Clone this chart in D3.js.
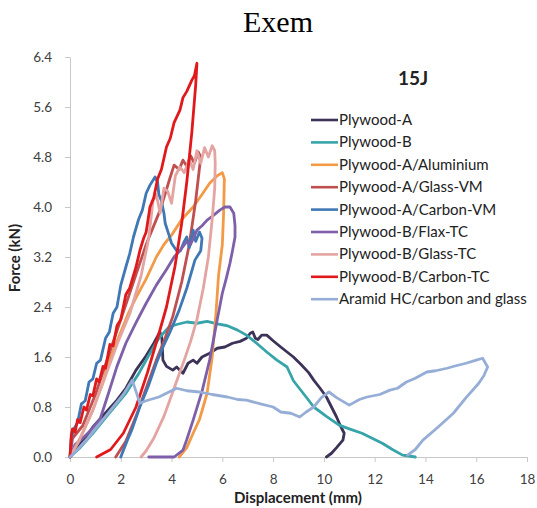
<!DOCTYPE html>
<html>
<head>
<meta charset="utf-8">
<script src="https://cdn.jsdelivr.net/npm/d3@7"></script>
<style>
  body { margin: 0; background: #fff; }
  svg { display: block; }
  .axis text { font-family: Lato, sans-serif; font-size: 13.5px; fill: #404040; }
  .axis path, .axis line { stroke: #c8c8c8; }
</style>
</head>
<body>
<script>
// tick values
var xTicks = [0, 2, 4, 6, 8, 10, 12, 14, 16, 18];
var yTicks = [0, 0.8, 1.6, 2.4, 3.2, 4.0, 4.8, 5.6, 6.4];

// series names + colours (legend order)
var names = ["Plywood-A", "Plywood-B", "Plywood-A/Aluminium", "Plywood-A/Glass-VM",
  "Plywood-A/Carbon-VM", "Plywood-B/Flax-TC", "Plywood-B/Glass-TC", "Plywood-B/Carbon-TC",
  "Aramid HC/carbon and glass"];
var colours = ["#3d3358", "#37a4aa", "#f29a46", "#bf4f50", "#3f78b4", "#7e5fa9", "#e3a4a2", "#e0191c", "#96aed6"];

// [displacement mm, force kN]
var plywoodA = [[0,0],[0.3,0.15],[0.6,0.3],[0.9,0.48],[1.3,0.66],[1.85,0.91],[2.2,1.1],[2.6,1.39],[3.0,1.62],
  [3.3,1.82],[3.54,2.0],[3.62,1.9],[3.66,1.55],[3.8,1.45],[4.05,1.39],[4.2,1.44],[4.45,1.34],[4.65,1.5],
  [4.85,1.55],[5.0,1.5],[5.2,1.6],[5.5,1.66],[5.8,1.74],[6.1,1.76],[6.4,1.82],[6.7,1.85],[6.95,1.9],
  [7.1,1.98],[7.2,2.0],[7.3,1.9],[7.4,1.88],[7.55,1.95],[7.75,1.95],[8.0,1.86],[8.3,1.76],[8.55,1.68],
  [8.8,1.6],[9.1,1.48],[9.4,1.35],[9.6,1.23],[9.85,1.1],[10.1,0.96],[10.3,0.8],[10.5,0.64],[10.65,0.5],
  [10.8,0.38],[10.75,0.27],[10.5,0.15],[10.3,0.06],[10.1,0]];

var plywoodB = [[0,0],[0.4,0.15],[0.9,0.38],[1.5,0.68],[2.2,1.02],[2.7,1.33],[3.15,1.66],[3.5,1.9],[3.9,2.08],
  [4.2,2.12],[4.6,2.16],[5.0,2.14],[5.4,2.17],[5.8,2.13],[6.2,2.1],[6.6,2.03],[6.95,1.95],[7.35,1.82],
  [7.75,1.68],[8.15,1.55],[8.55,1.44],[8.8,1.22],[9.3,0.96],[9.6,0.8],[10.1,0.65],[10.6,0.51],[11.0,0.45],
  [11.5,0.38],[11.9,0.3],[12.3,0.22],[12.7,0.12],[13.1,0.03],[13.3,0.02],[13.6,0]];

var aluminium = [[0,0],[0.4,0.3],[0.9,0.75],[1.3,1.2],[1.6,1.6],[2.0,2.0],[2.3,2.3],[2.6,2.55],[3.0,2.85],
  [3.4,3.2],[3.7,3.4],[4.0,3.55],[4.4,3.8],[4.85,4.0],[5.2,4.2],[5.5,4.38],[5.8,4.5],[6.0,4.55],[6.08,4.45],
  [6.05,3.9],[6.0,3.4],[5.85,2.9],[5.75,2.3],[5.6,1.6],[5.4,1.02],[5.1,0.6],[4.85,0.38],[4.6,0.15],[4.3,0]];

var glassVM = [[0,0],[0.1,0.3],[0.5,0.5],[1.0,1.0],[1.5,1.6],[2.0,2.2],[2.5,2.8],[3.0,3.4],[3.55,3.95],
  [3.95,4.48],[4.1,4.67],[4.3,4.6],[4.45,4.75],[4.6,4.65],[4.75,4.82],[4.9,4.7],[5.05,4.88],[5.15,4.8],
  [4.95,4.1],[4.7,3.4],[4.4,2.8],[4.05,2.25],[3.7,1.85],[3.4,1.55],[3.0,1.1],[2.6,0.65],[2.2,0.25],[1.8,0]];

var carbonVM = [[0,0],[0.05,0.3],[0.15,0.45],[0.3,0.55],[0.45,0.85],[0.6,0.9],[0.75,1.2],[0.9,1.25],
  [1.05,1.5],[1.2,1.55],[1.4,1.9],[1.55,2.0],[1.7,2.3],[1.85,2.4],[2.0,2.75],[2.2,3.04],[2.35,3.25],
  [2.5,3.52],[2.7,3.8],[2.85,3.95],[3.0,4.22],[3.15,4.35],[3.35,4.48],[3.45,4.4],[3.5,4.2],[3.6,4.1],
  [3.7,3.9],[3.75,3.74],[3.9,3.55],[4.0,3.42],[4.2,3.3],[4.35,3.3],[4.5,3.45],[4.6,3.52],[4.7,3.35],
  [4.85,3.63],[4.95,3.45],[5.1,3.6],[5.2,3.5],[5.15,3.3],[4.92,3.15],[4.6,2.7],[4.3,2.35],[3.94,2.0],
  [3.65,1.75],[3.4,1.5],[3.1,1.15],[2.75,0.8],[2.45,0.45],[2.24,0.25],[2.0,0]];

var flaxTC = [[0,0],[0.2,0.2],[0.5,0.3],[0.8,0.42],[1.18,0.6],[1.5,1.0],[1.85,1.45],[2.2,1.82],[2.6,2.15],
  [3.0,2.46],[3.4,2.75],[3.8,3.0],[4.1,3.2],[4.33,3.3],[4.6,3.45],[4.75,3.4],[5.0,3.63],[5.2,3.7],[5.4,3.79],
  [5.6,3.85],[5.9,3.95],[6.1,4.0],[6.3,4.0],[6.45,3.9],[6.5,3.7],[6.5,3.52],[6.4,3.3],[6.3,3.1],[6.15,2.85],
  [6.0,2.62],[5.8,2.2],[5.5,1.55],[5.2,1.05],[4.85,0.59],[4.6,0.28],[4.45,0.11],[4.1,0],[3.1,0]];

var glassTC = [[0,0],[0.4,0.3],[0.9,0.75],[1.4,1.3],[1.9,1.85],[2.36,2.3],[2.8,2.9],[3.1,3.5],[3.27,4.1],
  [3.4,4.2],[3.55,3.9],[3.7,4.3],[3.85,4.25],[4.0,4.06],[4.15,4.5],[4.33,4.64],[4.5,4.55],[4.7,4.75],
  [4.85,4.6],[5.0,4.9],[5.15,4.7],[5.3,4.95],[5.45,4.8],[5.6,4.98],[5.7,4.9],[5.72,4.7],[5.7,4.3],
  [5.6,3.8],[5.45,3.2],[5.25,2.7],[5.0,2.2],[4.75,1.85],[4.5,1.55],[4.1,1.1],[3.7,0.65],[3.3,0.3],
  [3.0,0.1],[2.8,0]];

var carbonTC = [[0,0],[0.05,0.35],[0.1,0.45],[0.2,0.4],[0.3,0.6],[0.4,0.55],[0.55,0.8],[0.65,0.75],
  [0.8,1.0],[0.9,0.98],[1.05,1.25],[1.15,1.2],[1.3,1.45],[1.4,1.42],[1.57,1.8],[1.7,1.78],[1.85,2.1],
  [2.0,2.2],[2.2,2.6],[2.35,2.7],[2.6,3.04],[2.75,3.3],[2.9,3.5],[3.0,3.6],[3.15,4.0],[3.3,4.15],
  [3.45,4.45],[3.6,4.6],[3.8,4.96],[3.95,5.1],[4.1,5.35],[4.33,5.55],[4.45,5.75],[4.6,5.85],[4.8,6.03],
  [4.9,6.1],[5.0,6.3],[4.95,5.95],[4.8,5.2],[4.6,4.4],[4.4,3.74],[4.13,3.04],[3.8,2.4],[3.45,1.9],
  [3.05,1.35],[2.6,0.8],[2.1,0.38],[1.6,0.12],[1.05,0]];

var aramid = [[0,0],[0.3,0.12],[0.7,0.3],[1.2,0.55],[1.7,0.8],[2.1,1.0],[2.45,1.23],[2.6,1.05],[2.75,0.86],
  [3.0,0.9],[3.5,0.96],[3.8,1.02],[4.2,1.1],[4.6,1.06],[5.1,1.04],[5.6,1.0],[6.2,0.96],[6.6,0.92],
  [6.95,0.91],[7.5,0.85],[8.0,0.8],[8.3,0.72],[8.7,0.7],[9.05,0.64],[9.3,0.72],[9.6,0.8],[9.9,0.95],
  [10.2,1.04],[10.5,0.95],[11.0,0.83],[11.4,0.92],[11.7,0.96],[12.2,1.0],[12.6,1.07],[12.9,1.1],
  [13.25,1.2],[13.6,1.26],[14.05,1.36],[14.4,1.38],[14.85,1.42],[15.2,1.46],[15.6,1.5],[16.0,1.55],
  [16.25,1.58],[16.45,1.44],[16.3,1.3],[16.1,1.18],[15.6,0.95],[15.1,0.7],[14.5,0.48],[13.9,0.27],
  [13.6,0.12],[13.3,0.03]];

var allSeries = [plywoodA, plywoodB, aluminium, glassVM, carbonVM, flaxTC, glassTC, carbonTC, aramid];

var width = 537, height = 508;

var svg = d3.select("body").append("svg")
  .attr("width", width)
  .attr("height", height);

var x = d3.scaleLinear().domain([0, 18]).range([70, 527]);
var y = d3.scaleLinear().domain([0, 6.4]).range([457, 57]);

// title
svg.append("text")
  .attr("x", 278).attr("y", 32)
  .attr("text-anchor", "middle")
  .style("font-family", "'Liberation Serif', 'Times New Roman', serif")
  .style("font-size", "30px")
  .text("Exem");

// axes
svg.append("g")
  .attr("class", "axis")
  .attr("transform", "translate(0," + y(0) + ")")
  .call(d3.axisBottom(x).tickValues(xTicks).tickSize(5).tickSizeOuter(0).tickPadding(12));

svg.append("g")
  .attr("class", "axis")
  .attr("transform", "translate(" + x(0) + ",0)")
  .call(d3.axisLeft(y).tickValues(yTicks).tickFormat(d3.format(".1f")).tickSize(5).tickSizeOuter(0).tickPadding(13));

svg.append("text")
  .attr("x", 298).attr("y", 503)
  .attr("text-anchor", "middle")
  .style("font-family", "Lato, sans-serif").style("font-weight", "bold").style("font-size", "15px")
  .style("fill", "#222")
  .text("Displacement (mm)");

svg.append("text")
  .attr("transform", "translate(20,258) rotate(-90)")
  .attr("text-anchor", "middle")
  .style("font-family", "Lato, sans-serif").style("font-weight", "bold").style("font-size", "15px")
  .style("fill", "#222")
  .text("Force (kN)");

// curves
var line = d3.line()
  .x(function(d) { return x(d[0]); })
  .y(function(d) { return y(d[1]); });

svg.append("g").selectAll("path")
  .data(allSeries)
  .enter()
    .append("path")
      .attr("d", line)
      .attr("fill", "none")
      .attr("stroke", function(d, i) { return colours[i]; })
      .attr("stroke-width", 2.8)
      .attr("stroke-linejoin", "round")
      .attr("stroke-linecap", "round");

// legend
svg.append("text")
  .attr("x", 413).attr("y", 85)
  .attr("text-anchor", "middle")
  .style("font-family", "Lato, sans-serif").style("font-weight", "bold").style("font-size", "19px")
  .style("fill", "#222")
  .text("15J");

var legend = svg.append("g").selectAll("g")
  .data(names)
  .enter()
    .append("g")
      .attr("transform", function(d, i) { return "translate(311," + (120 + i * 22.4) + ")"; });

legend.append("line")
  .attr("x1", 0).attr("x2", 27)
  .attr("stroke", function(d, i) { return colours[i]; })
  .attr("stroke-width", 2.6);

legend.append("text")
  .attr("x", 28).attr("y", 5)
  .style("font-family", "Lato, sans-serif").style("font-size", "15px")
  .style("fill", "#222")
  .text(function(d) { return d; });
</script>
</body>
</html>
